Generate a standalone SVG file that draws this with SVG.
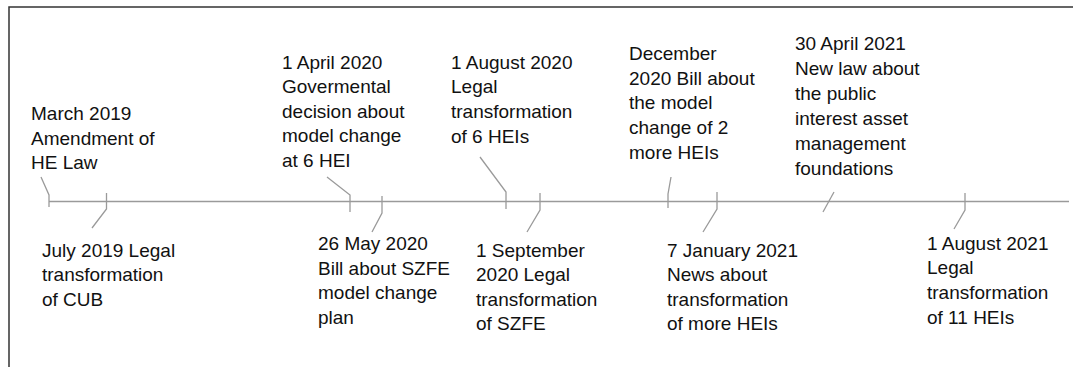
<svg xmlns="http://www.w3.org/2000/svg" width="1073" height="367" viewBox="0 0 1073 367">
<style>
.t{font-family:"Liberation Sans",Arial,sans-serif;font-size:19px;fill:#111}
.ln{stroke:#9a9a9a;stroke-width:1.3;fill:none}
.fr{stroke:#333;stroke-width:1.5;fill:none}
</style>
<rect width="1073" height="367" fill="#fff"/>
<path class="fr" d="M9,367 V7 H1073"/>
<g id="connectors">
<line class="ln" x1="49" y1="201.5" x2="1069" y2="201.5"/>
<polyline class="ln" points="41,177 49,195 49,207"/>
<polyline class="ln" points="106.5,193 106.5,209 92,228"/>
<polyline class="ln" points="327,177 350,195 350,212"/>
<polyline class="ln" points="382,196 382,213 372,232"/>
<polyline class="ln" points="480,157 506,192 506,209"/>
<polyline class="ln" points="540,193 540,210 527,232"/>
<polyline class="ln" points="671,177 668,194 668,208"/>
<polyline class="ln" points="717,192 717,209 703,232"/>
<line class="ln" x1="834" y1="192" x2="823" y2="212"/>
<polyline class="ln" points="965,193 965,210 954,229"/>
</g>
<g id="ev-mar2019"><text class="t" x="31" y="120">March 2019</text><text class="t" x="31" y="144.5">Amendment of</text><text class="t" x="31" y="169">HE Law</text></g>
<g id="ev-jul2019"><text class="t" x="42" y="256.5">July 2019 Legal</text><text class="t" x="42" y="281">transformation</text><text class="t" x="42" y="305.5">of CUB</text></g>
<g id="ev-apr2020"><text class="t" x="282" y="68.5">1 April 2020</text><text class="t" x="282" y="93">Govermental</text><text class="t" x="282" y="117.7">decision about</text><text class="t" x="282" y="142.4">model change</text><text class="t" x="282" y="167">at 6 HEI</text></g>
<g id="ev-may2020"><text class="t" x="318" y="250">26 May 2020</text><text class="t" x="318" y="274.7">Bill about SZFE</text><text class="t" x="318" y="299.4">model change</text><text class="t" x="318" y="324">plan</text></g>
<g id="ev-aug2020"><text class="t" x="451" y="68.5">1 August 2020</text><text class="t" x="451" y="93">Legal</text><text class="t" x="451" y="118">transformation</text><text class="t" x="451" y="142.5">of 6 HEIs</text></g>
<g id="ev-sep2020"><text class="t" x="476" y="256.5">1 September</text><text class="t" x="476" y="281">2020 Legal</text><text class="t" x="476" y="305.7">transformation</text><text class="t" x="476" y="330.4">of SZFE</text></g>
<g id="ev-dec2020"><text class="t" x="629" y="60">December</text><text class="t" x="629" y="84.7">2020 Bill about</text><text class="t" x="629" y="109.4">the model</text><text class="t" x="629" y="134">change of 2</text><text class="t" x="629" y="158.8">more HEIs</text></g>
<g id="ev-jan2021"><text class="t" x="667" y="256.5">7 January 2021</text><text class="t" x="667" y="281">News about</text><text class="t" x="667" y="305.7">transformation</text><text class="t" x="667" y="330.4">of more HEIs</text></g>
<g id="ev-apr2021"><text class="t" x="795" y="50">30 April 2021</text><text class="t" x="795" y="75">New law about</text><text class="t" x="795" y="100">the public</text><text class="t" x="795" y="125">interest asset</text><text class="t" x="795" y="150">management</text><text class="t" x="795" y="175">foundations</text></g>
<g id="ev-aug2021"><text class="t" x="927" y="249.5">1 August 2021</text><text class="t" x="927" y="274">Legal</text><text class="t" x="927" y="299">transformation</text><text class="t" x="927" y="323.5">of 11 HEIs</text></g>
</svg>
